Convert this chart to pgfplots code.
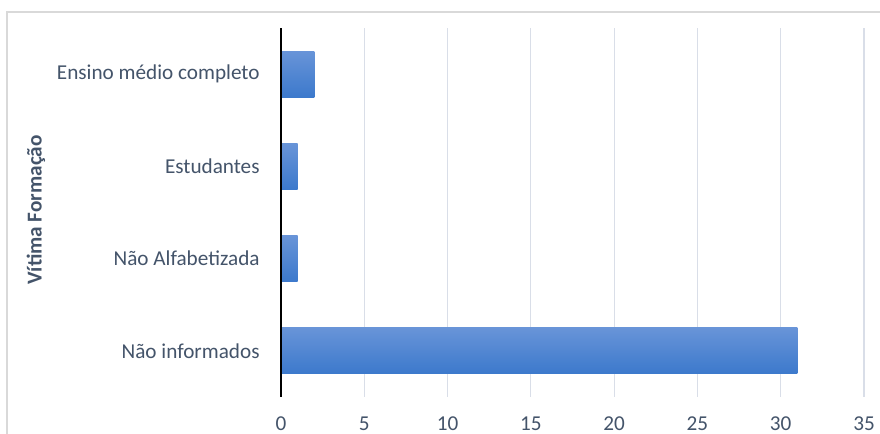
\documentclass[border=0pt]{standalone}
\usepackage{pgfplots}
\pgfplotsset{compat=1.18}
\usepackage{fontspec}
\setmainfont{Carlito}
\definecolor{txt}{HTML}{44546A}
\definecolor{gridc}{HTML}{D9DEE8}
\definecolor{framec}{HTML}{D9D9D9}
\definecolor{bartop}{HTML}{6894D8}
\definecolor{barbot}{HTML}{3C79CC}
\begin{document}
\begin{tikzpicture}
\path[use as bounding box] (0pt,0pt) rectangle (440pt,217pt);
\fill[white] (0pt,0pt) rectangle (440pt,217pt);
\draw[framec, line width=0.6pt] (3.5pt,-5pt) -- (3.5pt,211pt) -- (445pt,211pt);
\begin{axis}[
  at={(140.5pt,18.5pt)}, anchor=south west,
  scale only axis,
  width=291.5pt, height=184.5pt,
  xmin=0, xmax=35, ymin=-0.5, ymax=3.5,
  xtick={0,5,...,35},
  ytick={0,1,2,3},
  yticklabels={N\~ao informados, N\~ao Alfabetizada, Estudantes\hspace{2.4pt}, Ensino m\'edio completo},
  axis line style={draw=none},
  major tick length=0pt,
  xmajorgrids=true, ymajorgrids=false,
  major grid style={draw=gridc, line width=0.6pt},
  xbar, bar width=23pt, bar shift=0pt,
  font=\fontsize{10.6pt}{12pt}\selectfont,
  /pgf/number format/assume math mode=true,
  xticklabel style={anchor=center, yshift=-13.5pt, text=txt, inner sep=0pt},
  yticklabel style={anchor=east, xshift=-10.5pt, text=txt, inner sep=0pt},
  clip=false,
]
\addplot[draw=none, top color=bartop, bottom color=barbot] coordinates {(31,0)};
\addplot[draw=none, top color=bartop, bottom color=barbot] coordinates {(1,1)};
\addplot[draw=none, top color=bartop, bottom color=barbot] coordinates {(1,2)};
\addplot[draw=none, top color=bartop, bottom color=barbot] coordinates {(2,3)};
\draw[black, line width=1pt] (axis cs:0,-0.5) -- (axis cs:0,3.5);
\end{axis}
\node[rotate=90, text=txt, font=\fontsize{10.6pt}{12pt}\selectfont\bfseries, inner sep=0pt] at (18pt,112pt) {V\'itima Forma\c{c}\~ao};
\end{tikzpicture}
\end{document}
